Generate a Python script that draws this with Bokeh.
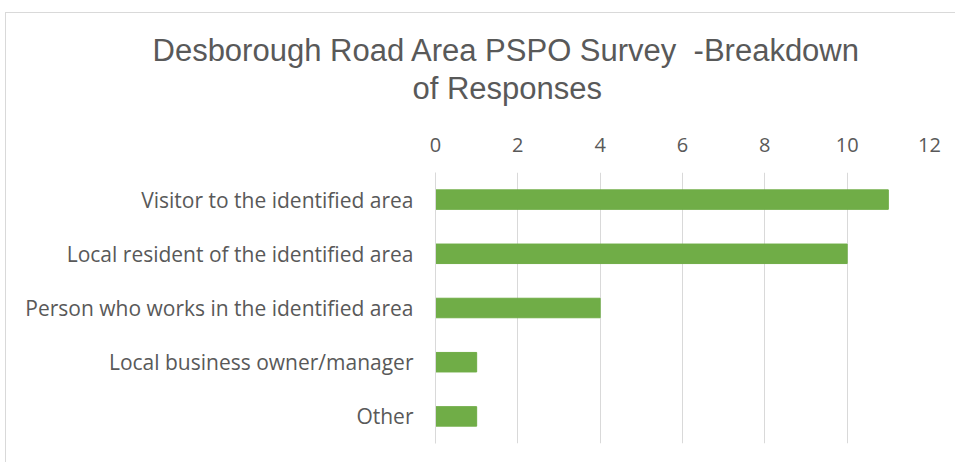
from bokeh.plotting import figure
from bokeh.models import Range1d, FactorRange, FixedTicker, Title
from bokeh.embed import file_html
from bokeh.resources import INLINE

categories = [
    "Visitor to the identified area",
    "Local resident of the identified area",
    "Person who works in the identified area",
    "Local business owner/manager",
    "Other",
]
values = [11, 10, 4, 1, 1]
x_ticks = [0, 2, 4, 6, 8, 10, 12]
title_line1 = "Desborough Road Area PSPO Survey \u00a0-Breakdown"
title_line2 = "of Responses"

factors = list(reversed(categories))
TEXT = "#595959"
GRID = "#d9d9d9"
GREEN = "#70AD47"

p = figure(
    width=950, height=450,
    y_range=FactorRange(factors=factors),
    x_range=Range1d(0, 12),
    x_axis_location="above",
    output_backend="svg", toolbar_location=None,
    min_border_left=429, min_border_right=27,
    min_border_bottom=20, min_border_top=159,
)
p.styles = {"border-left": "1px solid #d9d9d9", "border-top": "1px solid #d9d9d9",
            "margin-left": "5px", "margin-top": "12px"}

p.hbar(y=categories, right=values, left=0, height=0.36, color=GREEN)

p.outline_line_color = None
p.background_fill_color = "white"
p.border_fill_color = "white"

xa = p.xaxis[0]
xa.ticker = FixedTicker(ticks=x_ticks)
xa.axis_line_color = None
xa.major_tick_line_color = None
xa.minor_tick_line_color = None
xa.major_label_text_font = "Open Sans"
xa.major_label_text_font_size = "20px"
xa.major_label_text_color = TEXT
xa.major_label_standoff = 15

ya = p.yaxis[0]
ya.axis_line_color = GRID
ya.axis_line_width = 1
ya.major_tick_line_color = None
ya.minor_tick_line_color = None
ya.major_label_text_font = "Open Sans"
ya.major_label_text_font_size = "21px"
ya.major_label_text_color = TEXT
ya.major_label_standoff = 16

p.xgrid.grid_line_color = GRID
p.ygrid.grid_line_color = None

t2 = Title(text=title_line2, align="left", offset=-23,
           text_font="Liberation Sans", text_font_size="31px",
           text_font_style="normal", text_color=TEXT, standoff=57)
t1 = Title(text=title_line1, align="left", offset=-283,
           text_font="Liberation Sans", text_font_size="31px",
           text_font_style="normal", text_color=TEXT, standoff=-54)
p.add_layout(t2, "above")
p.add_layout(t1, "above")

open("out.html", "w").write(file_html(p, INLINE))
